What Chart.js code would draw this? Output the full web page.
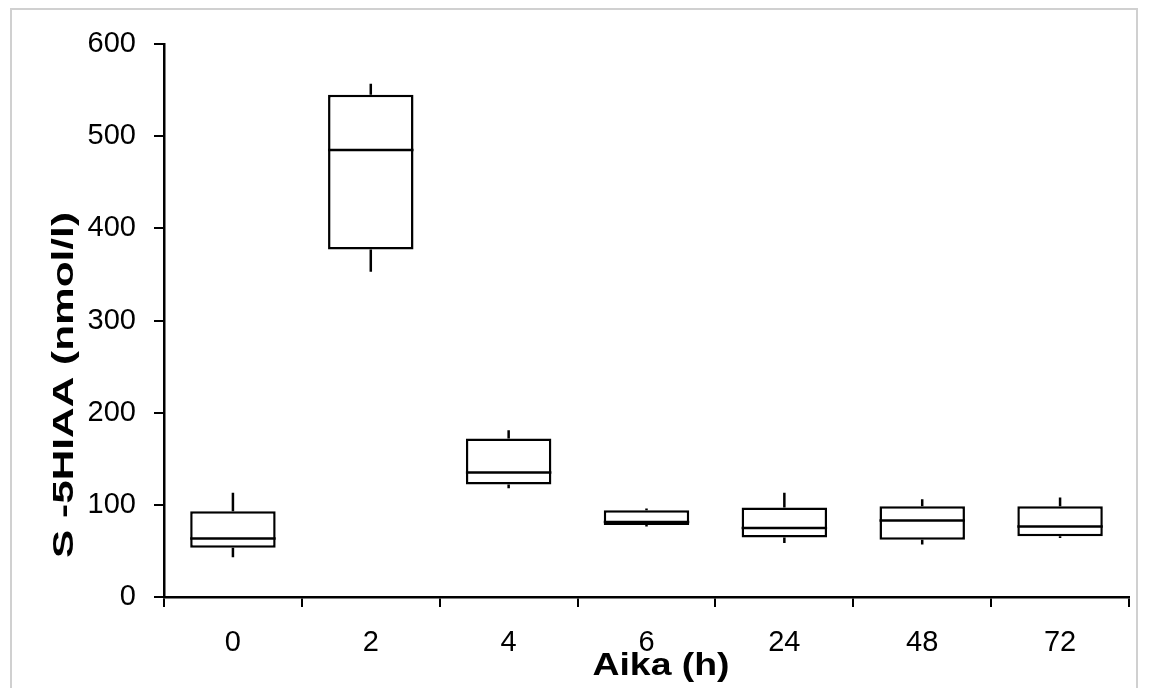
<!DOCTYPE html>
<html>
<head>
<meta charset="utf-8">
<script src="https://cdn.jsdelivr.net/npm/chart.js@4.4.1/dist/chart.umd.min.js"></script>
<style>
  html, body { margin: 0; padding: 0; background: #fff; }
  #wrap { position: relative; width: 1150px; height: 688px; overflow: hidden; }
  #frame { position: absolute; left: 10px; top: 8px; width: 1128px; height: 700px; border: 2px solid #d0d0d0; box-sizing: border-box; }
  canvas { position: absolute; left: 0; top: 0; }
</style>
</head>
<body>
<div id="wrap">
  <div id="frame"></div>
  <canvas id="chart" width="1150" height="688"></canvas>
</div>
<script>
// Box plot: S-5HIAA by time (h)
const categories = ['0', '2', '4', '6', '24', '48', '72'];
const mins    = [43,  353, 118, 76.5, 58.5, 57,  64];
const q1s     = [53.5, 377, 122, 78.2, 64.5, 62,  66];
const medians = [63.5, 485, 135, 81.5, 75,   83,  76.5];
const q3s     = [93,  545, 172, 94,   97,   98.5, 98.5];
const maxs    = [113, 557, 181, 96,   113,  106, 108];

const yTicks = [0, 100, 200, 300, 400, 500, 600];
const yTitle = 'S -5HIAA (nmol/l)';
const xTitle = 'Aika (h)';

const FONT = '"Liberation Sans", Arial, sans-serif';

// whiskers + medians drawn on top of the floating bars
const boxExtras = {
  id: 'boxExtras',
  afterDatasetsDraw(chart) {
    const ctx = chart.ctx;
    const y = chart.scales.y;
    const meta = chart.getDatasetMeta(0);
    ctx.save();
    ctx.strokeStyle = '#000';
    ctx.lineWidth = 2.5;
    meta.data.forEach((bar, i) => {
      const x = bar.x, half = bar.width / 2;
      ctx.beginPath();
      ctx.moveTo(x, y.getPixelForValue(q3s[i]));
      ctx.lineTo(x, y.getPixelForValue(maxs[i]));
      ctx.moveTo(x, y.getPixelForValue(q1s[i]));
      ctx.lineTo(x, y.getPixelForValue(mins[i]));
      ctx.stroke();
      ctx.beginPath();
      const my = y.getPixelForValue(medians[i]);
      ctx.moveTo(x - half, my);
      ctx.lineTo(x + half, my);
      ctx.stroke();
    });
    ctx.restore();
  }
};

// axis titles (stretched a bit along the text, like the source picture)
const axisTitles = {
  id: 'axisTitles',
  afterDraw(chart) {
    const ctx = chart.ctx;
    ctx.save();
    ctx.fillStyle = '#000';
    ctx.textAlign = 'center';
    ctx.textBaseline = 'middle';

    ctx.font = 'bold 30px ' + FONT;
    let w = ctx.measureText(yTitle).width;
    ctx.translate(65, 385);
    ctx.rotate(-Math.PI / 2);
    ctx.scale(346 / w, 1);
    ctx.fillText(yTitle, 0, 0);
    ctx.restore();

    ctx.save();
    ctx.fillStyle = '#000';
    ctx.textAlign = 'center';
    ctx.textBaseline = 'middle';
    ctx.font = 'bold 32px ' + FONT;
    w = ctx.measureText(xTitle).width;
    ctx.translate(661, 666);
    ctx.scale(137 / w, 1);
    ctx.fillText(xTitle, 0, 0);
    ctx.restore();
  }
};

new Chart(document.getElementById('chart').getContext('2d'), {
  type: 'bar',
  data: {
    labels: categories,
    datasets: [{
      data: categories.map((c, i) => [q1s[i], q3s[i]]),
      backgroundColor: '#fff',
      borderColor: '#000',
      borderWidth: 2.5,
      borderSkipped: false,
      barPercentage: 0.62,
      categoryPercentage: 1
    }]
  },
  options: {
    responsive: false,
    animation: false,
    layout: { padding: { top: 44, right: 21, left: 0, bottom: 0 } },
    plugins: { legend: { display: false }, tooltip: { enabled: false } },
    scales: {
      x: {
        offset: true,
        grid: { offset: true, drawOnChartArea: false, drawTicks: true, tickLength: 10, color: '#000', lineWidth: 2 },
        border: { color: '#000', width: 2.5 },
        ticks: { color: '#000', font: { family: FONT, size: 29 }, padding: 19, maxRotation: 0 },
        afterFit: s => { s.height = 91; }
      },
      y: {
        min: 0, max: 600,
        afterBuildTicks: s => { s.ticks = yTicks.map(v => ({ value: v })); },
        grid: { drawOnChartArea: false, drawTicks: true, tickLength: 10, color: '#000', lineWidth: 2 },
        border: { color: '#000', width: 2.5 },
        ticks: { color: '#000', font: { family: FONT, size: 29 }, padding: 18 },
        afterFit: s => { s.width = 164; }
      }
    }
  },
  plugins: [boxExtras, axisTitles]
});
</script>
</body>
</html>
